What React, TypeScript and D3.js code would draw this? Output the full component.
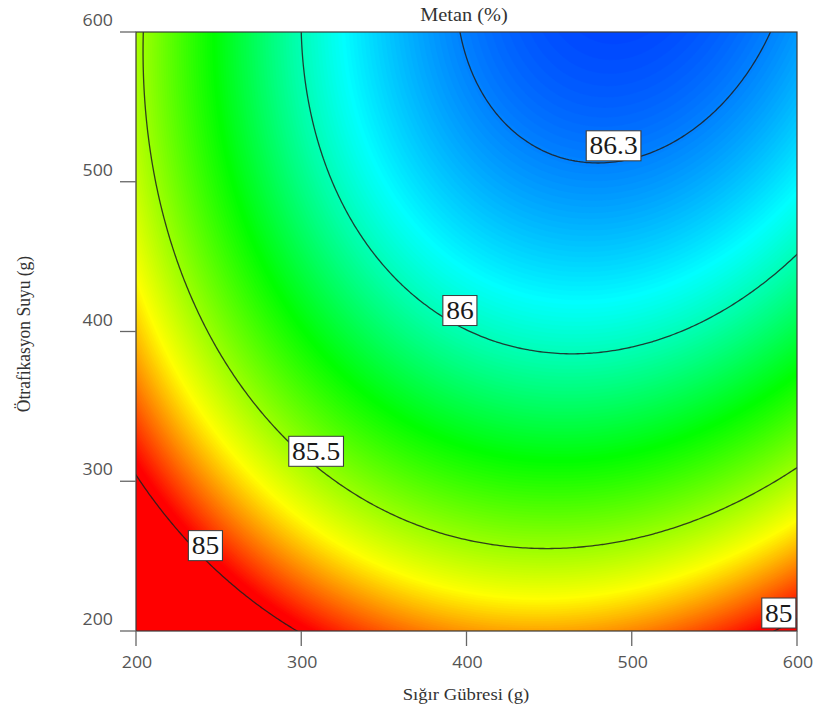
import React, { useEffect, useRef } from 'react';
import * as d3 from 'd3';

// quadratic response surface, coded units: A = Sığır Gübresi, B = Ötrafikasyon Suyu
// terms: intercept, A, B, A², B², AB
const modelCoefs = [85.997, 0.29, 0.549, -0.44, -0.238, 0.106];

const xDomain = [200, 600];
const yDomain = [200, 600];
const xTicks = [200, 300, 400, 500, 600];
const yTicks = [200, 300, 400, 500, 600];

const contourLevels = [85, 85.5, 86, 86.3];

// contour labels (value, position in data units)
const labelTexts = ['86.3', '86', '85.5', '85', '85'];
const labelX = [489, 396, 309, 242, 589];
const labelY = [524, 414, 320, 257, 212];

// colour ramp of the surface
const colorStops = [85.03, 85.34, 85.75, 86.1, 86.4];
const colorValues = ['#ff0000', '#ffff00', '#00ff00', '#00ffff', '#0044ff'];

const W = 824;
const H = 720;
const plot = { left: 136, right: 797, top: 32, bottom: 631 };
const STRETCH = 1.1; // the reference is a little wider than tall

function metan(x, y) {
  const a = (x - 400) / 200;
  const b = (y - 400) / 200;
  const c = modelCoefs;
  return c[0] + c[1] * a + c[2] * b + c[3] * a * a + c[4] * b * b + c[5] * a * b;
}

function Chart() {
  const ref = useRef(null);

  useEffect(() => {
    const svg = d3.select(ref.current);
    svg.selectAll('*').remove();

    const x = d3.scaleLinear().domain(xDomain).range([plot.left, plot.right]);
    const y = d3.scaleLinear().domain(yDomain).range([plot.bottom, plot.top]);
    const color = d3.scaleLinear().domain(colorStops).range(colorValues).clamp(true);

    // sample the surface a bit beyond the plot so contour edges fall outside the clip
    const pad = 10;
    const nx = 240;
    const ny = 220;
    const gx = d3.scaleLinear().domain([0, nx]).range([xDomain[0] - pad, xDomain[1] + pad]);
    const gy = d3.scaleLinear().domain([0, ny]).range([yDomain[1] + pad, yDomain[0] - pad]);
    const values = new Array(nx * ny);
    for (let j = 0; j < ny; j++) {
      for (let i = 0; i < nx; i++) {
        values[j * nx + i] = metan(gx(i + 0.5), gy(j + 0.5));
      }
    }

    const path = d3.geoPath(
      d3.geoTransform({
        point: function (px, py) {
          this.stream.point(x(gx(px)), y(gy(py)));
        },
      })
    );

    svg.append('defs').append('clipPath').attr('id', 'plotclip')
      .append('rect')
      .attr('x', plot.left).attr('y', plot.top)
      .attr('width', plot.right - plot.left).attr('height', plot.bottom - plot.top);

    const area = svg.append('g').attr('clip-path', 'url(#plotclip)');
    const [vmin, vmax] = d3.extent(values);

    area.append('rect')
      .attr('x', plot.left).attr('y', plot.top)
      .attr('width', plot.right - plot.left).attr('height', plot.bottom - plot.top)
      .attr('fill', color(vmin));

    const step = 0.008;
    const bands = d3.range(Math.ceil(vmin / step) * step, vmax, step);
    const fills = d3.contours().size([nx, ny]).thresholds(bands)(values);
    area.selectAll('path.band')
      .data(fills)
      .enter()
      .append('path')
      .attr('class', 'band')
      .attr('d', path)
      .attr('fill', (d) => color(d.value + step / 2))
      .attr('stroke', (d) => color(d.value + step / 2))
      .attr('stroke-width', 0.6);

    const lines = d3.contours().size([nx, ny]).thresholds(contourLevels)(values);
    area.selectAll('path.level')
      .data(lines)
      .enter()
      .append('path')
      .attr('class', 'level')
      .attr('d', path)
      .attr('fill', 'none')
      .attr('stroke', '#1e1e1e')
      .attr('stroke-opacity', 0.85)
      .attr('stroke-width', 1.3);

    // frame
    svg.append('rect')
      .attr('x', plot.left).attr('y', plot.top)
      .attr('width', plot.right - plot.left).attr('height', plot.bottom - plot.top)
      .attr('fill', 'none')
      .attr('stroke', '#3a3a3a')
      .attr('stroke-width', 1.2);

    const serif = '"Liberation Serif", "Times New Roman", Times, serif';

    // contour labels
    labelTexts.forEach((t, k) => {
      const g = svg.append('g')
        .attr('transform', `translate(${x(labelX[k])},${y(labelY[k])}) scale(${STRETCH},1)`);
      const rect = g.append('rect');
      const txt = g.append('text')
        .attr('x', 0).attr('y', 8.5)
        .attr('text-anchor', 'middle')
        .attr('font-family', serif)
        .attr('font-size', 25)
        .attr('fill', '#1a1a1a')
        .text(t);
      const w = txt.node().getComputedTextLength() + 6;
      rect.attr('x', -w / 2).attr('y', -15).attr('width', w).attr('height', 30)
        .attr('fill', '#ffffff')
        .attr('stroke', '#3c3c3c')
        .attr('stroke-width', 1);
    });

    // y axis ticks
    const tickFont = '"Open Sans", "DejaVu Sans", sans-serif';
    yTicks.forEach((v) => {
      svg.append('line')
        .attr('x1', plot.left - 16).attr('x2', plot.left)
        .attr('y1', y(v)).attr('y2', y(v))
        .attr('stroke', '#666').attr('stroke-width', 1.3);
      svg.append('g')
        .attr('transform', `translate(${plot.left - 23},${y(v) - 6}) scale(${STRETCH * 0.95},1)`)
        .append('text')
        .attr('text-anchor', 'end')
        .attr('font-family', tickFont)
        .attr('font-size', 17)
        .attr('fill', '#555')
        .text(v);
    });

    // x axis ticks
    xTicks.forEach((v) => {
      svg.append('line')
        .attr('x1', x(v)).attr('x2', x(v))
        .attr('y1', plot.bottom).attr('y2', plot.bottom + 15)
        .attr('stroke', '#666').attr('stroke-width', 1.3);
      svg.append('g')
        .attr('transform', `translate(${x(v) + 1},${plot.bottom + 37}) scale(${STRETCH * 0.95},1)`)
        .append('text')
        .attr('text-anchor', 'middle')
        .attr('font-family', tickFont)
        .attr('font-size', 17)
        .attr('fill', '#555')
        .text(v);
    });

    svg.append('g')
      .attr('transform', `translate(464,21) scale(${STRETCH},1)`)
      .append('text')
      .attr('text-anchor', 'middle')
      .attr('font-family', serif)
      .attr('font-size', 18.5)
      .attr('fill', '#333')
      .text('Metan (%)');

    svg.append('g')
      .attr('transform', `translate(466,700) scale(${STRETCH},1)`)
      .append('text')
      .attr('text-anchor', 'middle')
      .attr('font-family', serif)
      .attr('font-size', 17)
      .attr('fill', '#333')
      .text('Sığır Gübresi (g)');

    svg.append('g')
      .attr('transform', `translate(30,334) rotate(-90) scale(1,${STRETCH})`)
      .append('text')
      .attr('text-anchor', 'middle')
      .attr('font-family', serif)
      .attr('font-size', 17.5)
      .attr('fill', '#333')
      .text('Ötrafikasyon Suyu (g)');
  }, []);

  return (
    <svg
      ref={ref}
      width={W}
      height={H}
      style={{ position: 'absolute', left: 0, top: 0, background: '#fff' }}
    />
  );
}

export default function App() {
  return <Chart />;
}
